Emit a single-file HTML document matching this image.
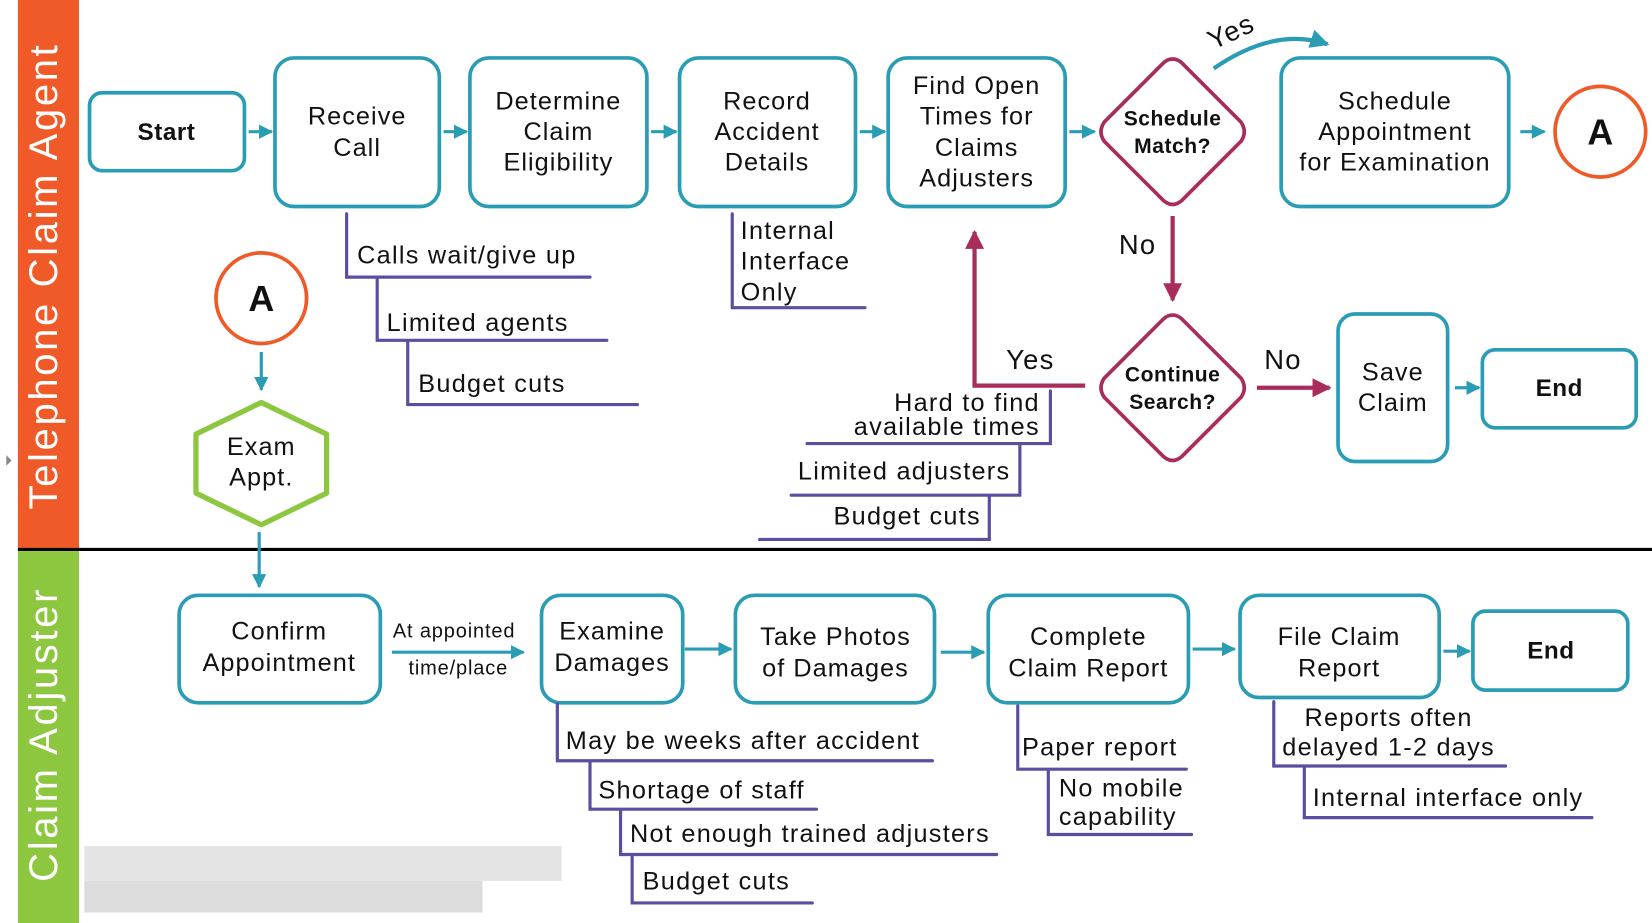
<!DOCTYPE html>
<html><head><meta charset="utf-8"><style>
html,body{margin:0;padding:0;background:#fff;}
svg{display:block;}
text{font-family:"Liberation Sans",sans-serif;fill:#111;}
.t{font-size:24px;text-anchor:middle;letter-spacing:1px;}
.b{font-size:23px;font-weight:bold;text-anchor:middle;letter-spacing:0.5px;}
.a{font-size:24px;letter-spacing:1.2px;}
.box{fill:#fff;stroke:#2a9db5;stroke-width:3.5;}
.p{fill:none;stroke:#5b4ea0;stroke-width:3;stroke-linecap:round;}
.ar{stroke:#2a9db5;stroke-width:3;fill:none;}
</style></head><body>
<svg width="1652" height="923" viewBox="0 0 1568 876" preserveAspectRatio="none" xmlns="http://www.w3.org/2000/svg">
<defs>
<marker id="tb" viewBox="0 0 10 10" refX="9" refY="5" markerWidth="4.5" markerHeight="4.5" orient="auto"><path d="M0 0L10 5L0 10z" fill="#2a9db5"/></marker>
<marker id="mg" viewBox="0 0 10 10" refX="9" refY="5" markerWidth="4.5" markerHeight="4.5" orient="auto"><path d="M0 0L10 5L0 10z" fill="#a82c5c"/></marker>
</defs>
<rect x="17" y="0" width="58" height="521" fill="#f05a28"/>
<rect x="17" y="523" width="58" height="353" fill="#8dc63f"/>
<text transform="translate(54,262) rotate(-90)" style="font-size:38px;fill:#fff;text-anchor:middle;letter-spacing:2.5px">Telephone Claim Agent</text>
<text transform="translate(54,697) rotate(-90)" style="font-size:38px;fill:#fff;text-anchor:middle;letter-spacing:2.5px">Claim Adjuster</text>
<line x1="17" y1="521.5" x2="1568" y2="521.5" stroke="#000" stroke-width="3"/>
<path d="M6 432L11 437L6 442z" fill="#888"/>

<rect class="box" x="85" y="88" width="147" height="74" rx="12"/><text class="b" x="158" y="133">Start</text>
<rect class="box" x="261" y="55" width="156" height="141" rx="18"/><text class="t" x="339" y="118">Receive</text><text class="t" x="339" y="148">Call</text>
<rect class="box" x="446" y="55" width="168" height="141" rx="18"/><text class="t" x="530" y="104">Determine</text><text class="t" x="530" y="133">Claim</text><text class="t" x="530" y="162">Eligibility</text>
<rect class="box" x="645" y="55" width="167" height="141" rx="18"/><text class="t" x="728" y="104">Record</text><text class="t" x="728" y="133">Accident</text><text class="t" x="728" y="162">Details</text>
<rect class="box" x="843" y="55" width="168" height="141" rx="18"/><text class="t" x="927" y="89">Find Open</text><text class="t" x="927" y="118">Times for</text><text class="t" x="927" y="148">Claims</text><text class="t" x="927" y="177">Adjusters</text>
<rect class="box" x="1216" y="55" width="216" height="141" rx="18"/><text class="t" x="1324" y="104">Schedule</text><text class="t" x="1324" y="133">Appointment</text><text class="t" x="1324" y="162">for Examination</text>
<circle cx="1519" cy="125" r="43" fill="#fff" stroke="#f05a28" stroke-width="3.5"/><text x="1519" y="137" style="font-size:34px;font-weight:bold;text-anchor:middle">A</text>
<g class="ar" marker-end="url(#tb)">
<line x1="236" y1="125" x2="258" y2="125"/><line x1="421" y1="125" x2="443" y2="125"/><line x1="618" y1="125" x2="642" y2="125"/><line x1="816" y1="125" x2="840" y2="125"/><line x1="1015" y1="125" x2="1039" y2="125"/><line x1="1443" y1="125" x2="1466" y2="125"/>
<line x1="1381" y1="368" x2="1404" y2="368"/><line x1="248" y1="334" x2="248" y2="370"/><line x1="246" y1="505" x2="246" y2="557"/>
<line x1="650" y1="616" x2="694" y2="616"/><line x1="893" y1="619" x2="934" y2="619"/><line x1="1132" y1="616" x2="1172" y2="616"/><line x1="1370" y1="618" x2="1395" y2="618"/><line x1="372" y1="619" x2="497" y2="619"/>
</g>
<path d="M1113 56 Q1118 56 1122 60 L1178 116 Q1184 125 1178 134 L1122 190 Q1113 198 1104 190 L1048 134 Q1042 125 1048 116 L1104 60 Q1108 56 1113 56z" fill="#fff" stroke="#a82c5c" stroke-width="3.5"/>
<text x="1113" y="119" style="font-size:20px;font-weight:bold;text-anchor:middle;letter-spacing:0.5px">Schedule</text><text x="1113" y="145" style="font-size:20px;font-weight:bold;text-anchor:middle;letter-spacing:0.5px">Match?</text>
<path d="M1113 299 Q1118 299 1122 303 L1178 359 Q1184 368 1178 377 L1122 433 Q1113 441 1104 433 L1048 377 Q1042 368 1048 359 L1104 303 Q1108 299 1113 299z" fill="#fff" stroke="#a82c5c" stroke-width="3.5"/>
<text x="1113" y="362" style="font-size:20px;font-weight:bold;text-anchor:middle;letter-spacing:0.5px">Continue</text><text x="1113" y="388" style="font-size:20px;font-weight:bold;text-anchor:middle;letter-spacing:0.5px">Search?</text>
<path d="M1152 65 Q1210 25 1260 42" fill="none" stroke="#2a9db5" stroke-width="4" marker-end="url(#tb)"/>
<text transform="translate(1172,38) rotate(-25)" style="font-size:26px;text-anchor:middle;letter-spacing:1px">Yes</text>
<line x1="1113" y1="205" x2="1113" y2="285" stroke="#a82c5c" stroke-width="4" marker-end="url(#mg)"/>
<text class="a" x="1062" y="241" style="font-size:26px">No</text>
<line x1="1193" y1="368" x2="1262" y2="368" stroke="#a82c5c" stroke-width="4" marker-end="url(#mg)"/>
<text class="a" x="1200" y="350" style="font-size:26px">No</text>
<path d="M1030 366 L925 366 L925 220" fill="none" stroke="#a82c5c" stroke-width="4" marker-end="url(#mg)"/>
<text class="a" x="955" y="350" style="font-size:26px">Yes</text>
<rect class="box" x="1270" y="298" width="104" height="140" rx="16"/><text class="t" x="1322" y="361">Save</text><text class="t" x="1322" y="390">Claim</text>
<rect class="box" x="1407" y="332" width="146" height="74" rx="12"/><text class="b" x="1480" y="376">End</text>
<circle cx="248" cy="283" r="43" fill="#fff" stroke="#f05a28" stroke-width="3.5"/><text x="248" y="295" style="font-size:34px;font-weight:bold;text-anchor:middle">A</text>
<path d="M248 382 L310 412 L310 468 L248 498 L186 468 L186 412z" fill="#fff" stroke="#8dc63f" stroke-width="5" stroke-linejoin="round"/>
<text class="t" x="248" y="432">Exam</text><text class="t" x="248" y="461">Appt.</text>
<path class="p" d="M329 203V263H560M358 263V323H576M387 323V384H605M695 203V292H821M997 371V421H766M968 421V470H751M939 470V512H721"/>
<text class="a" x="339" y="250">Calls wait/give up</text>
<text class="a" x="367" y="314">Limited agents</text>
<text class="a" x="397" y="372">Budget cuts</text>
<text class="a" x="703" y="227">Internal</text><text class="a" x="703" y="256">Interface</text><text class="a" x="703" y="285">Only</text>
<text class="a" x="987" y="390" style="text-anchor:end">Hard to find</text><text class="a" x="987" y="413" style="text-anchor:end">available times</text>
<text class="a" x="959" y="455" style="text-anchor:end">Limited adjusters</text>
<text class="a" x="931" y="498" style="text-anchor:end">Budget cuts</text>
<rect class="box" x="170" y="565" width="191" height="102" rx="18"/><text class="t" x="265" y="607">Confirm</text><text class="t" x="265" y="637">Appointment</text>
<text x="431" y="605" style="font-size:19px;text-anchor:middle;letter-spacing:0.8px">At appointed</text><text x="435" y="640" style="font-size:19px;text-anchor:middle;letter-spacing:0.8px">time/place</text>
<rect class="box" x="514" y="565" width="134" height="102" rx="18"/><text class="t" x="581" y="607">Examine</text><text class="t" x="581" y="637">Damages</text>
<rect class="box" x="698" y="565" width="189" height="102" rx="18"/><text class="t" x="793" y="612">Take Photos</text><text class="t" x="793" y="642">of Damages</text>
<rect class="box" x="938" y="565" width="190" height="102" rx="18"/><text class="t" x="1033" y="612">Complete</text><text class="t" x="1033" y="642">Claim Report</text>
<rect class="box" x="1177" y="565" width="189" height="97" rx="18"/><text class="t" x="1271" y="612">File Claim</text><text class="t" x="1271" y="642">Report</text>
<rect class="box" x="1398" y="580" width="147" height="75" rx="12"/><text class="b" x="1472" y="625">End</text>
<path class="p" d="M529 668V722H885M560 722V768H775M589 768V811H946M600 811V857H771M966 670V730H1126M995 730V792H1131M1209 666V727H1429M1238 727V776H1511"/>
<text class="a" x="537" y="711">May be weeks after accident</text>
<text class="a" x="568" y="758">Shortage of staff</text>
<text class="a" x="598" y="799">Not enough trained adjusters</text>
<text class="a" x="610" y="844">Budget cuts</text>
<text class="a" x="970" y="717">Paper report</text>
<text class="a" x="1005" y="756">No mobile</text><text class="a" x="1005" y="783">capability</text>
<text class="a" x="1318" y="689" style="text-anchor:middle">Reports often</text><text class="a" x="1318" y="717" style="text-anchor:middle">delayed 1-2 days</text>
<text class="a" x="1246" y="765">Internal interface only</text>
<rect x="80" y="803" width="453" height="33" fill="#e4e4e4"/>
<rect x="80" y="836" width="378" height="30" fill="#dcdcdc"/>
</svg>
</body></html>
